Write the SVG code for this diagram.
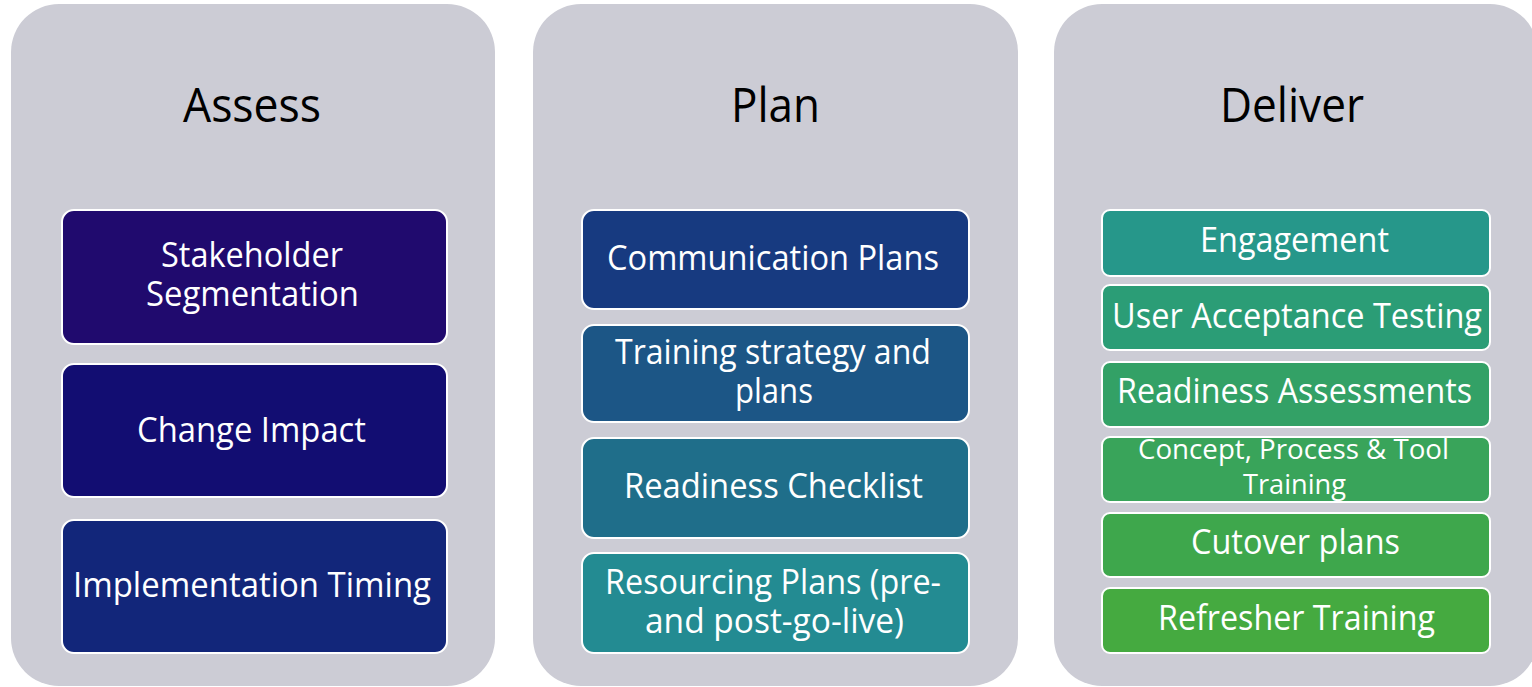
<svg xmlns="http://www.w3.org/2000/svg" width="1532" height="687" viewBox="0 0 1532 687">
<style>
.panel{fill:#CCCCD5;}
.box{stroke:#FFFFFF;stroke-width:2;}
.title{font-family:"Open Sans","Noto Sans",sans-serif;font-size:48px;fill:#000000;text-anchor:middle;}
.lbl{font-family:"Open Sans","Noto Sans",sans-serif;font-size:34px;fill:#FFFFFF;text-anchor:middle;}
.sm{font-size:27px;}
</style>
<rect width="1532" height="687" fill="#FFFFFF"/>
<g id="panel-assess">
<rect class="panel" x="11" y="4" width="484" height="682" rx="48"/>
<text class="title" x="252" y="122" textLength="138" lengthAdjust="spacingAndGlyphs">Assess</text>
</g>
<g id="panel-plan">
<rect class="panel" x="533" y="4" width="485" height="682" rx="48"/>
<text class="title" x="775.5" y="122" textLength="89" lengthAdjust="spacingAndGlyphs">Plan</text>
</g>
<g id="panel-deliver">
<rect class="panel" x="1054" y="4" width="484" height="682" rx="48"/>
<text class="title" x="1292" y="122" textLength="144" lengthAdjust="spacingAndGlyphs">Deliver</text>
</g>
<g id="connectors"></g>
<g id="stakeholder-segmentation">
<rect class="box" x="62" y="210" width="385" height="134" rx="12" fill="#200A6E"/>
<text class="lbl" x="252" y="267" textLength="182" lengthAdjust="spacingAndGlyphs">Stakeholder</text>
<text class="lbl" x="252.5" y="306" textLength="213" lengthAdjust="spacingAndGlyphs">Segmentation</text>
</g>
<g id="change-impact">
<rect class="box" x="62" y="364" width="385" height="133" rx="12" fill="#120D72"/>
<text class="lbl" x="251.5" y="442" textLength="229" lengthAdjust="spacingAndGlyphs">Change Impact</text>
</g>
<g id="implementation-timing">
<rect class="box" x="62" y="520" width="385" height="133" rx="12" fill="#12267A"/>
<text class="lbl" x="252" y="597" textLength="358" lengthAdjust="spacingAndGlyphs">Implementation Timing</text>
</g>
<g id="communication-plans">
<rect class="box" x="582" y="210" width="387" height="99" rx="12" fill="#173A80"/>
<text class="lbl" x="773" y="270" textLength="332" lengthAdjust="spacingAndGlyphs">Communication Plans</text>
</g>
<g id="training-strategy">
<rect class="box" x="582" y="325" width="387" height="97" rx="12" fill="#1C5686"/>
<text class="lbl" x="773" y="364" textLength="316" lengthAdjust="spacingAndGlyphs">Training strategy and</text>
<text class="lbl" x="774" y="403" textLength="78" lengthAdjust="spacingAndGlyphs">plans</text>
</g>
<g id="readiness-checklist">
<rect class="box" x="582" y="438" width="387" height="100" rx="12" fill="#1F6E8A"/>
<text class="lbl" x="773.5" y="498" textLength="299" lengthAdjust="spacingAndGlyphs">Readiness Checklist</text>
</g>
<g id="resourcing-plans">
<rect class="box" x="582" y="553" width="387" height="100" rx="12" fill="#238B92"/>
<text class="lbl" x="773" y="594" textLength="336" lengthAdjust="spacingAndGlyphs">Resourcing Plans (pre-</text>
<text class="lbl" x="774.5" y="633" textLength="259" lengthAdjust="spacingAndGlyphs">and post-go-live)</text>
</g>
<g id="engagement">
<rect class="box" x="1102" y="210" width="388" height="66" rx="8" fill="#26978A"/>
<text class="lbl" x="1294.5" y="252" textLength="189" lengthAdjust="spacingAndGlyphs">Engagement</text>
</g>
<g id="user-acceptance-testing">
<rect class="box" x="1102" y="285" width="388" height="65" rx="8" fill="#2B9D76"/>
<text class="lbl" x="1297" y="328" textLength="370" lengthAdjust="spacingAndGlyphs">User Acceptance Testing</text>
</g>
<g id="readiness-assessments">
<rect class="box" x="1102" y="362" width="388" height="65" rx="8" fill="#33A166"/>
<text class="lbl" x="1294.5" y="403" textLength="355" lengthAdjust="spacingAndGlyphs">Readiness Assessments</text>
</g>
<g id="concept-process-tool-training">
<rect class="box" x="1102" y="437" width="388" height="65" rx="8" fill="#39A45A"/>
<text class="lbl sm" x="1293.5" y="459" textLength="311" lengthAdjust="spacingAndGlyphs">Concept, Process &amp; Tool</text>
<text class="lbl sm" x="1294.5" y="494" textLength="103" lengthAdjust="spacingAndGlyphs">Training</text>
</g>
<g id="cutover-plans">
<rect class="box" x="1102" y="513" width="388" height="64" rx="8" fill="#3EA74C"/>
<text class="lbl" x="1295.5" y="554" textLength="209" lengthAdjust="spacingAndGlyphs">Cutover plans</text>
</g>
<g id="refresher-training">
<rect class="box" x="1102" y="588" width="388" height="65" rx="8" fill="#45AA40"/>
<text class="lbl" x="1296.5" y="630" textLength="277" lengthAdjust="spacingAndGlyphs">Refresher Training</text>
</g>
</svg>
